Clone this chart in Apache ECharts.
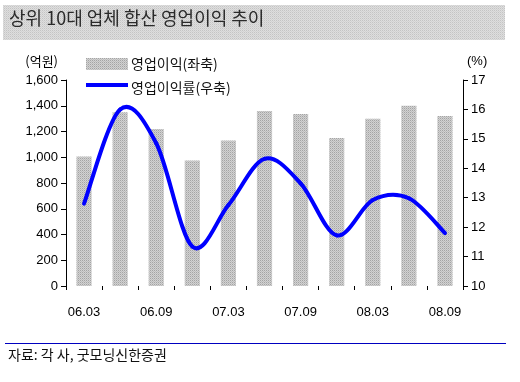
<!DOCTYPE html>
<html><head><meta charset="utf-8">
<script src="https://cdn.jsdelivr.net/npm/echarts@6/dist/echarts.min.js"></script>
<style>html,body{margin:0;padding:0;background:#fff}#c{width:520px;height:382px}</style>
</head><body><div id="c"></div>
<script>
var categories = ['06.03','06.06','06.09','06.12','07.03','07.06','07.09','07.12','08.03','08.06','08.09'];
var profit = [1005, 1350, 1220, 975, 1130, 1360, 1335, 1150, 1300, 1400, 1320];
var margin = [12.8, 16.0, 14.85, 11.34, 12.75, 14.32, 13.49, 11.72, 12.92, 12.98, 11.8];
var leftTicks = [0, 1600, 200];
var rightTicks = [10, 17, 1];

function makePattern(a, b, c) {
  var cv = document.createElement('canvas');
  cv.width = 2; cv.height = 2;
  var g = cv.getContext('2d');
  g.fillStyle = b; g.fillRect(0, 0, 2, 2);
  g.fillStyle = a; g.fillRect(0, 0, 1, 1);
  g.fillStyle = c; g.fillRect(1, 1, 1, 1);
  return cv;
}
var barPat = makePattern('#a4a4a4', '#d2d2d2', '#bdbdbd');
var titlePat = makePattern('#c4c4c4', '#dedede', '#d2d2d2');

var kfont = '"Noto Sans CJK KR", "Liberation Sans", sans-serif';
var nfont = '"Liberation Sans", Arial, sans-serif';

// Smoothed (Catmull-Rom) line segment between consecutive data points, positioned via axis scales
function renderSmoothSegment(params, api) {
  var i = params.dataIndexInside, n = params.dataInsideLength;
  if (i >= n - 1) return null;
  function pt(k) {
    k = Math.max(0, Math.min(n - 1, k));
    return api.coord([api.value(0, k), api.value(1, k)]);
  }
  var p0 = pt(i - 1), p1 = pt(i), p2 = pt(i + 1), p3 = pt(i + 2);
  var c1 = [p1[0] + (p2[0] - p0[0]) / 6, p1[1] + (p2[1] - p0[1]) / 6];
  var c2 = [p2[0] - (p3[0] - p1[0]) / 6, p2[1] - (p3[1] - p1[1]) / 6];
  return {
    type: 'path',
    shape: {pathData: 'M' + p1[0] + ' ' + p1[1] + ' C' + c1[0] + ' ' + c1[1] + ' ' + c2[0] + ' ' + c2[1] + ' ' + p2[0] + ' ' + p2[1]},
    style: {fill: 'none', stroke: '#0000ff', lineWidth: 4, lineCap: 'round', lineJoin: 'round'}
  };
}

var chart = echarts.init(document.getElementById('c'), null, {renderer: 'canvas'});
chart.setOption({
  animation: false,
  backgroundColor: '#fff',
  graphic: [
    {type: 'rect', shape: {x: 3, y: 5, width: 502, height: 35}, style: {fill: {image: titlePat, repeat: 'repeat'}}, z: 0},
    {type: 'text', left: 9, top: 9, style: {text: '상위 10대 업체 합산 영업이익 추이', font: '18px ' + kfont, fill: '#2a2a2a'}, z: 1},
    {type: 'line', shape: {x1: 86, y1: 85, x2: 128, y2: 85}, style: {stroke: '#0000ff', lineWidth: 4}, z: 10},
    {type: 'line', shape: {x1: 5, y1: 343.5, x2: 506, y2: 343.5}, style: {stroke: '#0000c0', lineWidth: 1}},
    {type: 'text', left: 8, top: 348, style: {text: '자료: 각 사, 굿모닝신한증권', font: '14px ' + kfont, fill: '#111'}}
  ],
  legend: {
    orient: 'vertical', left: 86, top: 57, padding: 0, itemGap: 10, itemWidth: 42, itemHeight: 12,
    textStyle: {fontFamily: kfont, fontSize: 14, color: '#111', padding: [0, 0, 0, -2]},
    data: [
      {name: '영업이익(좌축)', icon: 'rect', itemStyle: {color: {image: barPat, repeat: 'repeat'}}},
      {name: '영업이익률(우축)', icon: 'rect', itemStyle: {opacity: 0}}
    ]
  },
  grid: {left: 66, right: 57, top: 80, bottom: 96},
  xAxis: {
    type: 'category', data: categories, boundaryGap: true,
    axisLine: {show: false},
    axisTick: {show: true, length: 4, interval: 0, lineStyle: {color: '#000'}},
    axisLabel: {interval: 1, margin: 20, color: '#000', fontFamily: nfont, fontSize: 13}
  },
  yAxis: [
    {type: 'value', min: leftTicks[0], max: leftTicks[1], interval: leftTicks[2],
     name: '(억원)', nameLocation: 'end', nameGap: 12,
     nameTextStyle: {fontFamily: kfont, fontSize: 13, color: '#000', align: 'right', padding: [0, 8, 0, 0]},
     axisLine: {show: true, lineStyle: {color: '#000'}},
     axisTick: {show: true, length: 5, lineStyle: {color: '#000'}},
     splitLine: {show: false},
     axisLabel: {margin: 8, color: '#000', fontFamily: nfont, fontSize: 13,
       formatter: function (v) { return v.toLocaleString('en-US'); }}},
    {type: 'value', min: rightTicks[0], max: rightTicks[1], interval: rightTicks[2],
     name: '(%)', nameLocation: 'end', nameGap: 12,
     nameTextStyle: {fontFamily: nfont, fontSize: 13, color: '#000', align: 'left', padding: [0, 0, 0, 4]},
     axisLine: {show: true, lineStyle: {color: '#000'}},
     axisTick: {show: true, length: 5, lineStyle: {color: '#000'}},
     splitLine: {show: false},
     axisLabel: {margin: 8, color: '#000', fontFamily: nfont, fontSize: 13}}
  ],
  series: [
    {name: '영업이익(좌축)', type: 'bar', data: profit, barWidth: '42%',
     itemStyle: {color: {image: barPat, repeat: 'repeat'}}},
    {name: '영업이익률(우축)', type: 'custom', yAxisIndex: 1,
     data: margin.map(function (v, i) { return [i, v]; }),
     encode: {x: 0, y: 1},
     renderItem: renderSmoothSegment, z: 3}
  ]
});
</script></body></html>
